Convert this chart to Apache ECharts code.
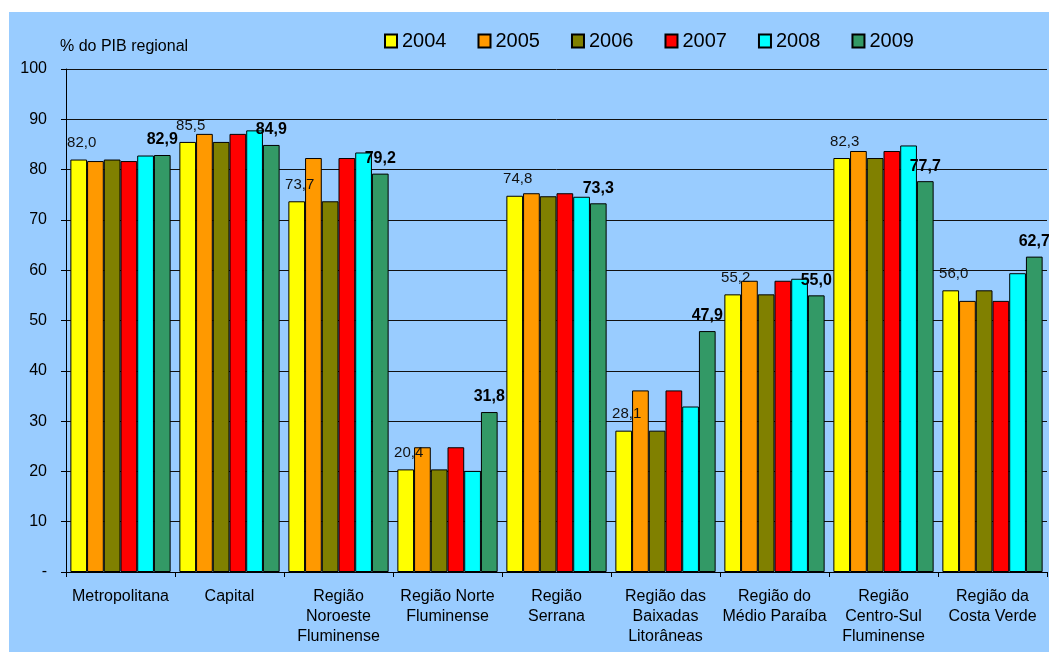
<!DOCTYPE html>
<html>
<head>
<meta charset="utf-8">
<script src="https://cdn.jsdelivr.net/npm/echarts@6/dist/echarts.min.js"></script>
<style>
html,body{margin:0;padding:0;background:#fff;width:1049px;height:652px;overflow:hidden;}
#panel{position:absolute;left:9px;top:12px;width:1040px;height:640px;background:#99CCFF;}
#chart{position:absolute;left:0;top:0;width:1049px;height:652px;}
</style>
</head>
<body>
<div id="panel"></div>
<div id="chart"></div>
<script>
const categories = ['Metropolitana','Capital','Região\nNoroeste\nFluminense','Região Norte\nFluminense','Região\nSerrana','Região das\nBaixadas\nLitorâneas','Região do\nMédio Paraíba','Região\nCentro-Sul\nFluminense','Região da\nCosta Verde'];
const years = ['2004','2005','2006','2007','2008','2009'];
const v2004 = [82.0, 85.5, 73.7, 20.4, 74.8, 28.1, 55.2, 82.3, 56.0];
const v2005 = [81.7, 87.1, 82.3, 24.8, 75.3, 36.1, 57.9, 83.7, 53.9];
const v2006 = [82.0, 85.5, 73.7, 20.4, 74.7, 28.1, 55.2, 82.3, 56.0];
const v2007 = [81.7, 87.1, 82.3, 24.8, 75.3, 36.1, 57.9, 83.7, 53.9];
const v2008 = [82.8, 87.8, 83.4, 20.1, 74.6, 32.9, 58.3, 84.8, 59.4];
const v2009 = [82.9, 84.9, 79.2, 31.8, 73.3, 47.9, 55.0, 77.7, 62.7];
const colors = ['#FFFF00','#FF9900','#808000','#FF0000','#00FFFF','#339966'];
const values = [v2004, v2005, v2006, v2007, v2008, v2009];

const fmt = p => p.value.toFixed(1).replace('.', ',');
const FONT = '"Liberation Sans", Arial, sans-serif';

const series = years.map((y, i) => {
  const s = {
    name: y,
    type: 'bar',
    data: values[i],
    barGap: '0%',
    barCategoryGap: '8%',
    itemStyle: { color: colors[i], borderColor: '#000', borderWidth: 1 },
    emphasis: { disabled: true },
    label: { show: false }
  };
  if (i === 0) {
    s.label = { show: true, position: 'top', distance: 9, offset: [3, 0], formatter: fmt,
      fontFamily: FONT, fontSize: 15, color: '#111' };
  }
  if (i === 5) {
    s.label = { show: true, position: 'top', distance: 7, formatter: fmt,
      fontFamily: FONT, fontSize: 16, fontWeight: 'bold', color: '#000' };
  }
  return s;
});

const chart = echarts.init(document.getElementById('chart'), null, { renderer: 'canvas' });
chart.setOption({
  animation: false,
  color: colors,
  title: {
    text: '% do PIB regional',
    left: 60, top: 39, padding: 0,
    textStyle: { fontFamily: FONT, fontSize: 16, fontWeight: 'normal', color: '#000' }
  },
  legend: {
    data: years,
    left: 384, top: 31, padding: 0,
    itemWidth: 12, itemHeight: 13, itemGap: 31,
    icon: 'rect',
    textStyle: { fontFamily: FONT, fontSize: 20, color: '#000' }
  },
  grid: { left: 66, right: 2, top: 69, bottom: 80, containLabel: false },
  xAxis: {
    type: 'category',
    data: categories,
    axisLine: { lineStyle: { color: '#000', width: 1 } },
    axisTick: { show: true, length: 5, lineStyle: { color: '#000' } },
    axisLabel: { fontFamily: FONT, fontSize: 16, color: '#000', lineHeight: 20, margin: 15, interval: 0 }
  },
  yAxis: {
    type: 'value',
    min: 0, max: 100, interval: 10,
    axisLine: { show: true, lineStyle: { color: '#000', width: 1 } },
    axisTick: { show: true, length: 5, lineStyle: { color: '#000' } },
    axisLabel: { fontFamily: FONT, fontSize: 16, color: '#000', margin: 19,
      formatter: v => v === 0 ? '-' : String(v) },
    splitLine: { show: true, lineStyle: { color: '#111', width: 1 } }
  },
  series: series
});
</script>
</body>
</html>
